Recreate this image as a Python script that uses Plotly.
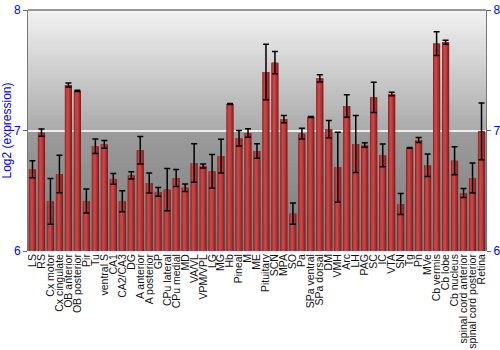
import plotly.graph_objects as go

regions = ["LS", "RS", "Cx motor", "Cx cingulate", "OB anterior", "OB posterior", "Pir", "Tu",
           "ventral S", "CA1", "CA2/CA3", "DG", "A anterior", "A posterior", "GP", "CPu lateral",
           "CPu medial", "MD", "VA/VL", "VPM/VPL", "LG", "MG", "Hb", "Pineal", "M", "ME",
           "Pituitary", "SCN", "MPA", "SO", "Pa", "SPa ventral", "SPa dorsal", "DM", "VMH", "Arc",
           "LH", "PAG", "SC", "IC", "VTA", "SN", "Tg", "Pn", "MVe", "Cb vermis", "Cb lobe",
           "Cb nucleus", "spinal cord anterior", "spinal cord posterior", "Retina"]

expression = [6.678, 6.982, 6.412, 6.639, 7.378, 7.328, 6.415, 6.869,
              6.885, 6.598, 6.412, 6.628, 6.836, 6.564, 6.490, 6.509,
              6.606, 6.525, 6.730, 6.705, 6.661, 6.788, 7.220, 6.935, 6.979, 6.830,
              7.485, 7.563, 7.095, 6.310, 6.974, 7.112, 7.433, 7.012, 6.695, 7.203,
              6.888, 6.880, 7.275, 6.794, 7.303, 6.390, 6.855, 6.921, 6.711, 7.721, 7.732,
              6.749, 6.481, 6.606, 6.993]

errors = [0.070, 0.030, 0.190, 0.155, 0.017, 0.005, 0.100, 0.060,
          0.033, 0.045, 0.087, 0.030, 0.115, 0.083, 0.036, 0.175,
          0.070, 0.032, 0.160, 0.017, 0.140, 0.140, 0.005, 0.064, 0.036, 0.060,
          0.230, 0.093, 0.030, 0.088, 0.044, 0.004, 0.030, 0.072, 0.290, 0.094,
          0.236, 0.018, 0.126, 0.094, 0.014, 0.088, 0.003, 0.020, 0.093, 0.098, 0.017,
          0.116, 0.037, 0.125, 0.235]

y_min, y_max = 6, 8
ticks = [6, 7, 8]

fig = go.Figure()

# cylinder-like shading: stacked overlay bars of decreasing width
layers = [
    (0.80, -0.40, "#801c1c"),
    (0.68, -0.37, "#9c2828"),
    (0.50, -0.31, "#b33636"),
    (0.28, -0.23, "#c64646"),
]
for w, off, col in layers:
    fig.add_trace(go.Bar(
        x=regions, y=[v - y_min for v in expression], base=y_min,
        width=w, offset=off, marker=dict(color=col, line=dict(width=0)),
        showlegend=False, hoverinfo="skip"))

fig.add_trace(go.Scatter(
    x=regions, y=expression, mode="markers", marker=dict(size=0.1, color="rgba(0,0,0,0)"),
    error_y=dict(type="data", array=errors, visible=True, color="black", thickness=1.5, width=3),
    showlegend=False, yaxis="y2", hoverinfo="skip"))

# vertical grey gradient background (overlapping bands to avoid seams)
n = 60
def grad(t):
    # t = 0 at bottom, 1 at top
    if t >= 0.5:
        s = (t - 0.5) / 0.5
        return 170 + (242 - 170) * s
    s = t / 0.5
    return 122 + (156 - 122) * s
bg_shapes = []
for i in range(n):
    c = int(round(grad((i + 0.5) / n)))
    y0 = y_min + (y_max - y_min) * i / n
    y1 = min(y_max, y_min + (y_max - y_min) * (i + 2) / n)
    bg_shapes.append(dict(type="rect", xref="x domain", yref="y",
                          x0=0, x1=1, y0=y0, y1=y1,
                          fillcolor=f"rgb({c},{c},{c})", line=dict(width=0), layer="below"))

axis_font = dict(family="Liberation Sans, Arial, sans-serif", size=12, color="#0000ff")

fig.update_layout(
    width=500, height=350,
    margin=dict(l=28, r=14, t=10, b=99),
    paper_bgcolor="white", plot_bgcolor="rgba(0,0,0,0)",
    barmode="overlay", bargap=0.1,
    font=dict(family="Liberation Sans, Arial, sans-serif", size=10, color="black"),
    xaxis=dict(tickangle=-90, tickfont=dict(size=10.5, color="#111111"), showgrid=False,
               tickmode="array", tickvals=regions, ticktext=regions,
               ticks="", showline=False, range=[-0.5, len(regions) - 0.5], automargin=False),
    yaxis=dict(range=[y_min, y_max], tickvals=ticks, tickfont=axis_font,
               title=dict(text="Log2 (expression)", font=axis_font, standoff=4),
               showgrid=True, gridcolor="#eeeeee", gridwidth=1.5, zeroline=False,
               ticks="outside", ticklen=4, tickcolor="#666666",
               showline=True, linecolor="#777777", linewidth=1, mirror=False, automargin=False),
    yaxis2=dict(range=[y_min, y_max], tickvals=ticks, tickfont=axis_font, overlaying="y",
                side="right", showgrid=False, zeroline=False, ticks="outside", ticklen=4,
                tickcolor="#666666", showline=True, linecolor="#777777", linewidth=1,
                automargin=False),
    shapes=bg_shapes + [
        dict(type="line", xref="paper", yref="paper", x0=0, x1=1, y0=1, y1=1,
             line=dict(color="#777777", width=1.5))
    ],
)

fig.write_html("out.html")
